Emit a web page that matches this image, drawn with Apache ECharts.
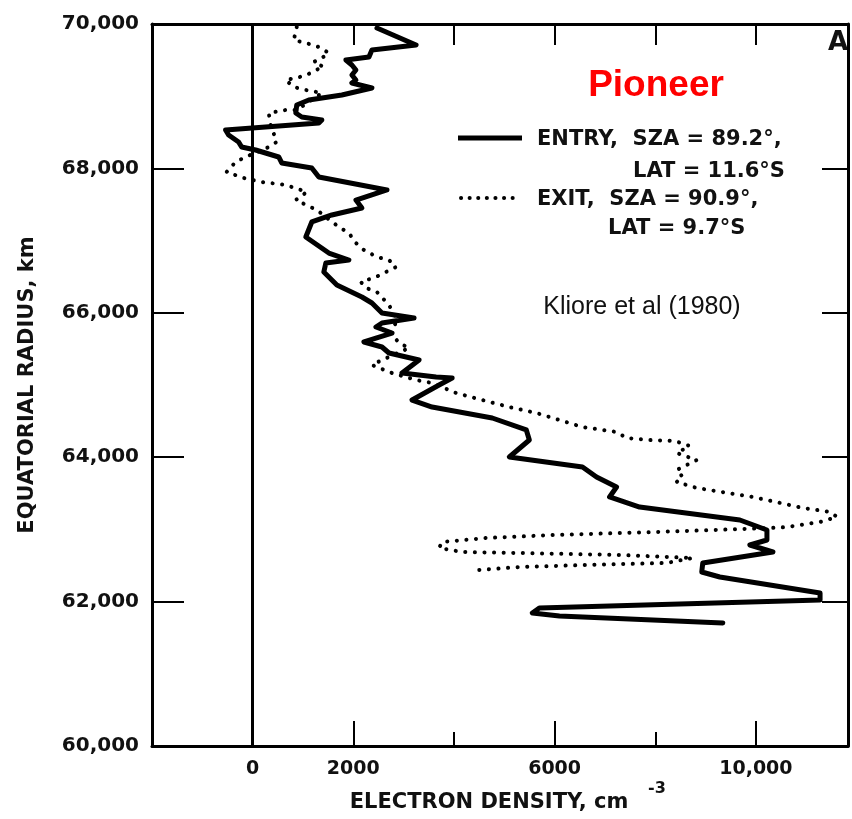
<!DOCTYPE html>
<html><head><meta charset="utf-8">
<script src="https://cdn.jsdelivr.net/npm/echarts@6/dist/echarts.min.js"></script>
<style>html,body{margin:0;padding:0;background:#fff}#c{width:852px;height:819px}</style>
</head><body><div id="c"></div>
<script>
// Tick values / labels
const yTickValues = [60000, 62000, 64000, 66000, 68000, 70000];
const xLabelValues = [0, 2000, 6000, 10000];
const xMajorTicks = [2000, 6000, 10000];
const xMinorTicks = [4000, 8000];
const xTopTicks = [2000, 4000, 6000, 8000, 10000];

// ENTRY profile: [electron density cm^-3, equatorial radius km]
const entryProfile = [
  [2470,69945],[3247,69709],[2370,69640],[2311,69543],[1853,69501],[1972,69432],
  [2052,69363],[1972,69294],[2052,69224],[1972,69183],[2370,69114],[1773,69017],
  [1116,68947],[876,68878],[857,68767],[976,68712],[1374,68670],[1315,68629],
  [-538,68532],[-478,68463],[-279,68366],[-219,68296],[60,68255],[518,68158],
  [578,68075],[1175,68006],[1315,67881],[2669,67701],[2052,67562],[2171,67452],
  [1574,67355],[1175,67258],[1056,67050],[1514,66828],[1912,66731],[1454,66690],
  [1414,66565],[1673,66385],[2171,66219],[2370,66136],[2570,65997],[3207,65928],
  [2570,65859],[2450,65803],[2769,65720],[2211,65596],[2570,65526],[2709,65443],
  [3307,65346],[2968,65166],[3645,65111],[3964,65097],[3705,65000],[3167,64792],
  [3566,64695],[4761,64543],[5438,64377],[5498,64238],[5100,64003],[6554,63864],
  [6833,63726],[7231,63587],[7092,63449],[7689,63310],[9681,63130],[10219,62992],
  [10219,62853],[9880,62784],[10338,62687],[8944,62535],[8924,62410],[9283,62341],
  [11275,62119],[11275,62022],[5697,61912],[5558,61842],[6096,61801],[9342,61704]
];

// EXIT profile: [electron density cm^-3, equatorial radius km]
const exitProfile = [
  [876,69958],[817,69778],[1056,69737],[1315,69681],[1514,69598],[1374,69529],
  [1215,69474],[1414,69404],[1255,69363],[1076,69294],[857,69252],[657,69224],
  [817,69127],[1056,69086],[1374,69044],[876,68809],[657,68809],[319,68767],
  [359,68601],[478,68366],[319,68296],[-139,68158],[-339,68089],[-518,67950],
  [-179,67867],[179,67812],[657,67770],[1076,67673],[857,67562],[1275,67424],
  [1713,67188],[1912,67105],[2052,66967],[2211,66870],[2470,66773],[2709,66731],
  [2849,66634],[2649,66565],[2450,66496],[2151,66427],[2251,66344],[2470,66288],
  [2709,66108],[2868,65900],[2749,65720],[2908,65582],[3108,65513],[2570,65346],
  [2370,65277],[2769,65166],[3247,65069],[3566,65028],[4044,64889],[4562,64792],
  [5100,64695],[5637,64612],[6096,64515],[6554,64418],[7231,64349],[7430,64266],
  [7888,64238],[8386,64225],[8685,64155],[8426,64058],[8825,63961],[8625,63892],
  [8426,63823],[8546,63726],[8426,63657],[8825,63574],[9940,63449],[10936,63297],
  [11474,63241],[11613,63172],[11275,63103],[10617,63033],[10279,63019],[7948,62963],
  [5956,62922],[4641,62881],[3765,62826],[3705,62743],[4163,62687],[5299,62673],
  [7291,62646],[8745,62604],[8227,62535],[6633,62507],[5299,62479],[4502,62438]
];

const FONT = 'DejaVu Sans';
const INK = '#111';
const fmtNum = v => (v >= 10000 ? v.toLocaleString('en-US') : String(v));

const chart = echarts.init(document.getElementById('c'), null, {renderer: 'canvas'});
chart.setOption({
  animation: false,
  backgroundColor: '#fff',
  grid: {left: 152, right: 4, top: 24, bottom: 73, containLabel: false},
  xAxis: [
    {
      type: 'value', position: 'bottom', min: -2000, max: 11830, interval: 2000,
      splitLine: {show: false},
      axisLine: {show: true, onZero: false, lineStyle: {color: '#000', width: 3}},
      axisTick: {show: true, inside: true, length: 25, customValues: xMajorTicks,
                 lineStyle: {color: '#000', width: 2}},
      axisLabel: {show: true, customValues: xLabelValues, formatter: fmtNum, margin: 14,
                  color: INK, fontFamily: FONT, fontSize: 19, fontWeight: 'bold'},
      name: 'ELECTRON DENSITY, cm', nameLocation: 'middle', nameGap: 46,
      nameTextStyle: {color: INK, fontFamily: FONT, fontSize: 21, fontWeight: 'bold',
                      padding: [0, 22, 0, 0]}
    },
    {
      type: 'value', position: 'bottom', min: -2000, max: 11830, interval: 2000,
      splitLine: {show: false},
      axisLine: {show: false, onZero: false},
      axisTick: {show: true, inside: true, length: 14, customValues: xMinorTicks,
                 lineStyle: {color: '#000', width: 2}},
      axisLabel: {show: false}
    },
    {
      type: 'value', position: 'top', min: -2000, max: 11830, interval: 2000,
      splitLine: {show: false},
      axisLine: {show: true, onZero: false, lineStyle: {color: '#000', width: 3}},
      axisTick: {show: true, inside: true, length: 21, customValues: xTopTicks,
                 lineStyle: {color: '#000', width: 2}},
      axisLabel: {show: false}
    }
  ],
  yAxis: [
    {
      type: 'value', position: 'left', min: 60000, max: 70000, interval: 2000,
      splitLine: {show: false},
      axisLine: {show: true, onZero: false, lineStyle: {color: '#000', width: 3}},
      axisTick: {show: true, inside: true, length: 32, customValues: yTickValues,
                 lineStyle: {color: '#000', width: 2}},
      axisLabel: {show: true, customValues: yTickValues, formatter: fmtNum, margin: 13,
                  color: INK, fontFamily: FONT, fontSize: 20, fontWeight: 'bold'},
      name: 'EQUATORIAL RADIUS, km', nameLocation: 'middle', nameGap: 114,
      nameTextStyle: {color: INK, fontFamily: FONT, fontSize: 21, fontWeight: 'bold'}
    },
    {
      type: 'value', position: 'right', min: 60000, max: 70000, interval: 2000,
      splitLine: {show: false},
      axisLine: {show: true, onZero: false, lineStyle: {color: '#000', width: 3}},
      axisTick: {show: true, inside: true, length: 26, customValues: yTickValues,
                 lineStyle: {color: '#000', width: 2}},
      axisLabel: {show: false}
    }
  ],
  series: [
    {
      name: 'ENTRY', type: 'line', xAxisIndex: 0, yAxisIndex: 0,
      data: entryProfile, symbol: 'none', clip: true, z: 3,
      lineStyle: {color: '#000', width: 5, join: 'round', cap: 'round'},
      markLine: {
        silent: true, symbol: 'none', label: {show: false},
        lineStyle: {color: '#000', width: 3, type: 'solid'},
        data: [{xAxis: 0}]
      }
    },
    {
      name: 'EXIT', type: 'line', xAxisIndex: 0, yAxisIndex: 0,
      data: exitProfile, symbol: 'none', clip: true, z: 2,
      lineStyle: {color: '#000', width: 4, type: [0.1, 9.5], cap: 'round', join: 'round'}
    }
  ],
  graphic: [
    {type: 'line', shape: {x1: 458, y1: 138, x2: 522, y2: 138},
     style: {stroke: '#000', lineWidth: 5}},
    {type: 'line', shape: {x1: 461, y1: 198, x2: 521, y2: 198},
     style: {stroke: '#000', lineWidth: 4, lineDash: [0.1, 8.5], lineCap: 'round'}},
    {type: 'text', x: 537, y: 140, style: {text: 'ENTRY,  SZA = 89.2°,', fill: INK,
      font: 'bold 21px "DejaVu Sans"', textVerticalAlign: 'middle'}},
    {type: 'text', x: 633, y: 172, style: {text: 'LAT = 11.6°S', fill: INK,
      font: 'bold 21px "DejaVu Sans"', textVerticalAlign: 'middle'}},
    {type: 'text', x: 537, y: 200, style: {text: 'EXIT,  SZA = 90.9°,', fill: INK,
      font: 'bold 21px "DejaVu Sans"', textVerticalAlign: 'middle'}},
    {type: 'text', x: 608, y: 229, style: {text: 'LAT = 9.7°S', fill: INK,
      font: 'bold 21px "DejaVu Sans"', textVerticalAlign: 'middle'}},
    {type: 'text', x: 656, y: 86, style: {text: 'Pioneer', fill: '#ff0000',
      font: 'bold 37px "Liberation Sans"', textAlign: 'center', textVerticalAlign: 'middle'}},
    {type: 'text', x: 642, y: 307, style: {text: 'Kliore et al (1980)', fill: INK,
      font: '25px "Liberation Sans"', textAlign: 'center', textVerticalAlign: 'middle'}},
    {type: 'text', x: 838, y: 43, style: {text: 'A', fill: INK,
      font: 'bold 26px "DejaVu Sans"', textAlign: 'center', textVerticalAlign: 'middle'}},
    {type: 'text', x: 648, y: 789, style: {text: '-3', fill: INK,
      font: 'bold 16px "DejaVu Sans"', textVerticalAlign: 'middle'}}
  ]
});
</script></body></html>
